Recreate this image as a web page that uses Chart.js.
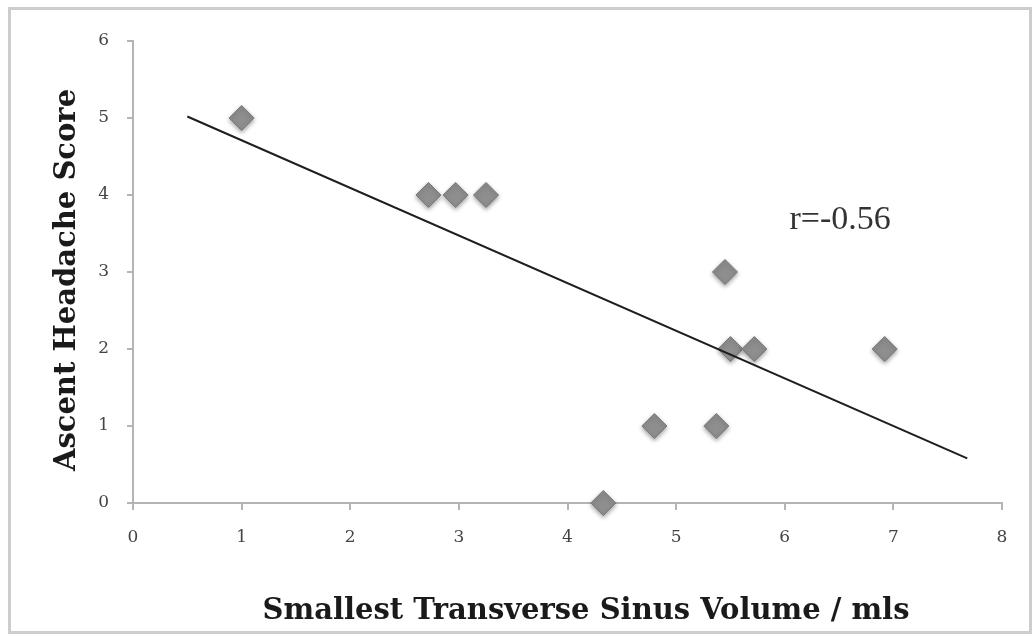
<!DOCTYPE html>
<html>
<head>
<meta charset="utf-8">
<script src="https://cdn.jsdelivr.net/npm/chart.js@4/dist/chart.umd.min.js"></script>
<style>
  html, body { margin: 0; padding: 0; background: #fff; }
  #wrap { width: 1033px; height: 635px; }
</style>
</head>
<body>
<div id="wrap"><canvas id="chart" width="1033" height="635"></canvas></div>
<script>
// sinus volume (mls) vs ascent headache score, one entry per subject
const volume = [1.00, 2.72, 2.97, 3.25, 4.33, 4.80, 5.37, 5.45, 5.50, 5.72, 6.92];
const score  = [5, 4, 4, 4, 0, 1, 1, 3, 2, 2, 2];

// fitted line end points
const trendX = [0.5, 7.68];
const trendY = [5.02, 0.58];

const xMin = 0, xMax = 8;
const yMin = 0, yMax = 6;

const rLabel = 'r=-0.56';
const rAt = { x: 6.51, y: 3.68 };

const xTitle = 'Smallest Transverse Sinus Volume / mls';
const yTitle = 'Ascent Headache Score';

const serif = '"Liberation Serif", "DejaVu Serif", serif';
const wideSerif = '"DejaVu Serif", "Liberation Serif", serif';

const points = volume.map((v, i) => ({ x: v, y: score[i] }));
const trend = trendX.map((v, i) => ({ x: v, y: trendY[i] }));

// frame, axis titles and r value
const decor = {
  id: 'decor',
  beforeDraw(chart) {
    const ctx = chart.ctx;
    ctx.save();
    ctx.fillStyle = '#fff';
    ctx.fillRect(0, 0, chart.width, chart.height);
    ctx.strokeStyle = '#cdcdcd';
    ctx.lineWidth = 3;
    ctx.strokeRect(9.5, 8.5, 1021, 624);
    ctx.restore();
  },
  afterDraw(chart) {
    const ctx = chart.ctx;
    const xs = chart.scales.x, ys = chart.scales.y;
    ctx.save();
    ctx.fillStyle = '#1a1a1a';
    ctx.font = 'bold 29px ' + wideSerif;
    ctx.textAlign = 'center';
    ctx.textBaseline = 'middle';
    ctx.fillText(xTitle, 586, 611);
    ctx.translate(67, 280);
    ctx.rotate(-Math.PI / 2);
    ctx.fillText(yTitle, 0, 0);
    ctx.restore();

    ctx.save();
    ctx.fillStyle = '#333';
    ctx.font = '34px ' + serif;
    ctx.textAlign = 'center';
    ctx.textBaseline = 'middle';
    ctx.fillText(rLabel, xs.getPixelForValue(rAt.x), ys.getPixelForValue(rAt.y));
    ctx.restore();
  }
};

// soft shadow under the diamonds
const markerShadow = {
  id: 'markerShadow',
  beforeDatasetDraw(chart, args) {
    if (args.index !== 1) return;
    const ctx = chart.ctx;
    ctx.save();
    ctx.shadowColor = 'rgba(0,0,0,0.35)';
    ctx.shadowBlur = 4;
    ctx.shadowOffsetY = 2;
  },
  afterDatasetDraw(chart, args) {
    if (args.index !== 1) return;
    chart.ctx.restore();
  }
};

new Chart(document.getElementById('chart'), {
  type: 'scatter',
  data: {
    datasets: [
      {
        label: 'trend',
        data: trend,
        showLine: true,
        borderColor: '#1e1e1e',
        borderWidth: 2,
        pointRadius: 0,
        fill: false
      },
      {
        label: 'subjects',
        data: points,
        clip: false,
        pointStyle: 'rectRot',
        pointRadius: 12.5,
        backgroundColor: '#8e8e8e',
        borderColor: '#787878',
        borderWidth: 1
      }
    ]
  },
  options: {
    responsive: false,
    animation: false,
    layout: { padding: { left: 0, top: 41, right: 31, bottom: 0 } },
    plugins: { legend: { display: false }, tooltip: { enabled: false } },
    scales: {
      x: {
        type: 'linear',
        min: xMin, max: xMax,
        afterFit(scale) { scale.height = 132; },
        ticks: { stepSize: 1, padding: 17, color: '#444', font: { family: wideSerif, size: 17 } },
        grid: { drawOnChartArea: false, drawTicks: true, tickLength: 7, color: '#b4b4b4', lineWidth: 2 },
        border: { color: '#b4b4b4', width: 2 }
      },
      y: {
        type: 'linear',
        min: yMin, max: yMax,
        afterFit(scale) { scale.width = 133; },
        ticks: { stepSize: 1, padding: 18, color: '#444', font: { family: wideSerif, size: 17 } },
        grid: { drawOnChartArea: false, drawTicks: true, tickLength: 6, color: '#b4b4b4', lineWidth: 2 },
        border: { color: '#b4b4b4', width: 2 }
      }
    }
  },
  plugins: [decor, markerShadow]
});
</script>
</body>
</html>
